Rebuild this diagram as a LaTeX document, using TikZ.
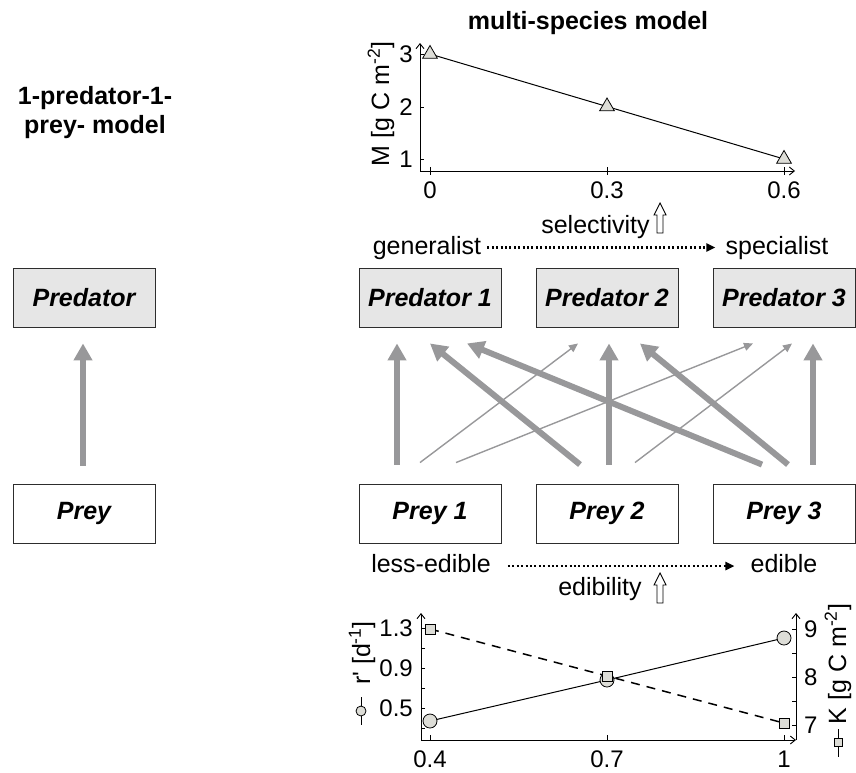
\documentclass[tikz,border=0pt]{standalone}
\usepackage{fontspec}
\setmainfont{Liberation Sans}
\usetikzlibrary{arrows.meta,shapes.geometric}

\definecolor{boxgray}{RGB}{230,230,230}
\definecolor{feedgray}{RGB}{152,152,154}
\definecolor{markgray}{RGB}{221,221,215}
\definecolor{edgegray}{RGB}{45,45,45}

\begin{document}
\begin{tikzpicture}[x=1pt,y=-1pt,
	txt/.style={font=\fontsize{25}{30}\selectfont, inner sep=0pt},
	boldtxt/.style={font=\fontsize{25}{30}\selectfont\bfseries, inner sep=0pt},
	ticklab/.style={font=\fontsize{24}{28}\selectfont, inner sep=0pt},
	species/.style={draw=edgegray, line width=0.9pt, minimum width=142pt, minimum height=59pt, font=\fontsize{25}{30}\selectfont\bfseries\itshape},
	predbox/.style={species, fill=boxgray},
	preybox/.style={species, fill=white},
	strongfeed/.style={feedgray, line width=6pt, -{Triangle[length=17pt,width=18pt]}},
	weakfeed/.style={feedgray, line width=1.4pt, -{Triangle[length=9pt,width=8pt]}},
	axisline/.style={line width=0.9pt, -{Straight Barb[length=5pt,width=8pt]}},
	gradline/.style={line width=2.4pt, dash pattern=on 2pt off 2.4pt, -{Triangle[length=9pt,width=8pt]}},
	hollow/.style={draw, line width=0.9pt, fill=white},
	trimark/.style={regular polygon, regular polygon sides=3, draw, line width=0.8pt, fill=markgray, minimum size=17pt, inner sep=0pt},
	circmark/.style={circle, draw, line width=0.8pt, fill=markgray, minimum size=14pt, inner sep=0pt},
	sqmark/.style={rectangle, draw, line width=0.8pt, fill=markgray, minimum size=10pt, inner sep=0pt}]
	\useasboundingbox (0,0) rectangle (856,772);

	% titles
	\node[boldtxt, anchor=base] (single1) at (95,104) {1-predator-1-};
	\node[boldtxt, anchor=base] (single2) at (95,133) {prey- model};
	\node[boldtxt, anchor=base] (multi) at (588,29) {multi-species model};

	% food chain boxes
	\node[predbox] (pred) at (84,297.5) {Predator};
	\node[preybox] (prey) at (84,513.5) {Prey};
	\node[predbox] (pred1) at (430,297.5) {Predator 1};
	\node[predbox] (pred2) at (607,297.5) {Predator 2};
	\node[predbox] (pred3) at (784,297.5) {Predator 3};
	\node[preybox] (prey1) at (430,513.5) {Prey 1};
	\node[preybox] (prey2) at (607,513.5) {Prey 2};
	\node[preybox] (prey3) at (784,513.5) {Prey 3};

	% feeding links
	\draw[strongfeed] ([xshift=-1pt,yshift=18pt]prey.north) -- ([xshift=-1pt,yshift=-16pt]pred.south);
	\draw[weakfeed] ([xshift=-10pt,yshift=21pt]prey1.north) -- ([xshift=-29pt,yshift=-16pt]pred2.south);
	\draw[weakfeed] ([xshift=26pt,yshift=21pt]prey1.north) -- ([xshift=-31pt,yshift=-16pt]pred3.south);
	\draw[weakfeed] ([xshift=28pt,yshift=21pt]prey2.north) -- ([xshift=8pt,yshift=-16pt]pred3.south);
	\draw[strongfeed] ([xshift=-33pt,yshift=19pt]prey1.north) -- ([xshift=-33pt,yshift=-16pt]pred1.south);
	\draw[strongfeed] ([xshift=-27pt,yshift=19pt]prey2.north) -- ([xshift=0pt,yshift=-16pt]pred1.south);
	\draw[strongfeed] ([xshift=-22pt,yshift=19pt]prey3.north) -- ([xshift=37pt,yshift=-16pt]pred1.south);
	\draw[strongfeed] ([xshift=2pt,yshift=19pt]prey2.north) -- ([xshift=2pt,yshift=-16pt]pred2.south);
	\draw[strongfeed] ([xshift=4pt,yshift=19pt]prey3.north) -- ([xshift=33pt,yshift=-16pt]pred2.south);
	\draw[strongfeed] ([xshift=29pt,yshift=19pt]prey3.north) -- ([xshift=29pt,yshift=-16pt]pred3.south);

	% selectivity gradient
	\node[txt, anchor=base] (gen) at (427,254) {generalist};
	\node[txt, anchor=base] (spec) at (777,254) {specialist};
	\draw[gradline, shorten <=6pt, shorten >=10pt] (gen.east) -- (spec.west);
	\node[txt, anchor=base] (sel) at (595.5,233) {selectivity};
	\draw[hollow] (657,233) -- (657,215) -- (654,215) -- (660,203) -- (666,215) -- (663,215) -- (663,233) -- cycle;

	% edibility gradient
	\node[txt, anchor=base] (less) at (431,572) {less-edible};
	\node[txt, anchor=base] (edib) at (784,572) {edible};
	\draw[gradline, shorten <=17pt, shorten >=16pt] ([yshift=-3pt]less.east) -- ([yshift=-3pt]edib.west);
	\node[txt, anchor=base] (edy) at (600,595) {edibility};
	\draw[hollow] (657,603) -- (657,585) -- (654,585) -- (660,573) -- (666,585) -- (663,585) -- (663,603) -- cycle;

	% M versus selectivity
	\draw[axisline] (420,171) -- (795,171);
	\draw[axisline] (420,171) -- (420,43);
	\foreach \x/\lab in {430/0, 607/0.3, 784/0.6} {
		\draw[line width=0.8pt] (\x,167) -- (\x,175);
		\node[ticklab, anchor=north] at (\x,182) {\lab};
	}
	\foreach \y/\lab in {54/3, 107/2, 159/1} {
		\draw[line width=0.8pt] (420,\y) -- (424,\y);
		\node[ticklab, anchor=east] at (413,\y) {\lab};
	}
	\node[txt, rotate=90, anchor=base] (mlab) at (389,104) {M [g C m\textsuperscript{-2}]};
	\begin{scope}[shift={(430,211.5)}, x=590pt, y=52.5pt]
		\draw[line width=1pt] (0,3) -- (0.3,2) -- (0.6,1);
		\foreach \s/\m [count=\i] in {0/3, 0.3/2, 0.6/1}
			\node[trimark] (mpt\i) at (\s,\m) {};
	\end{scope}

	% r' and K versus edibility
	\draw[axisline] (421,740) -- (796,740);
	\draw[axisline] (421,740) -- (421,613);
	\draw[axisline] (796,740) -- (796,613);
	\foreach \x/\lab in {430/0.4, 607/0.7, 784/1} {
		\draw[line width=0.8pt] (\x,740) -- (\x,735);
		\node[ticklab, anchor=north] at (\x,751) {\lab};
	}
	\foreach \y in {728,708,688,668,648,628}
		\draw[line width=0.8pt] (421,\y) -- (425,\y);
	\foreach \y/\lab in {628/1.3, 668/0.9, 708/0.5}
		\node[ticklab, anchor=east] at (413,\y) {\lab};
	\foreach \y in {725,701,677,653,629}
		\draw[line width=0.8pt] (796,\y) -- (792,\y);
	\foreach \y/\lab in {629/9, 677/8, 725/7}
		\node[ticklab, anchor=west] at (804,\y) {\lab};
	\draw[line width=1pt] (361,697) -- (361,725);
	\node[circmark, minimum size=10pt] (rleg) at (361,711) {};
	\node[txt, rotate=90, anchor=base] (rlab) at (370,653) {r\textquotesingle{} [d\textsuperscript{-1}]};
	\draw[line width=1pt] (838,729) -- (838,757);
	\node[sqmark, minimum size=8pt] (kleg) at (838,742) {};
	\node[txt, rotate=90, anchor=base] (klab) at (846,664) {K [g C m\textsuperscript{-2}]};
	\begin{scope}[shift={(194,758)}, x=590pt, y=100pt]
		\draw[line width=1pt] (0.4,0.37) -- (0.7,0.78) -- (1,1.2);
	\end{scope}
	\begin{scope}[shift={(194,1061)}, x=590pt, y=48pt]
		\draw[line width=1.5pt, dash pattern=on 9pt off 7pt] (0.4,9) -- (0.7,8.02) -- (1,7.04);
	\end{scope}
	\begin{scope}[shift={(194,758)}, x=590pt, y=100pt]
		\foreach \e/\r [count=\i] in {0.4/0.37, 0.7/0.78, 1/1.2}
			\node[circmark] (rpt\i) at (\e,\r) {};
	\end{scope}
	\begin{scope}[shift={(194,1061)}, x=590pt, y=48pt]
		\foreach \e/\k [count=\i] in {0.4/9, 0.7/8.02, 1/7.04}
			\node[sqmark] (kpt\i) at (\e,\k) {};
	\end{scope}
\end{tikzpicture}
\end{document}
